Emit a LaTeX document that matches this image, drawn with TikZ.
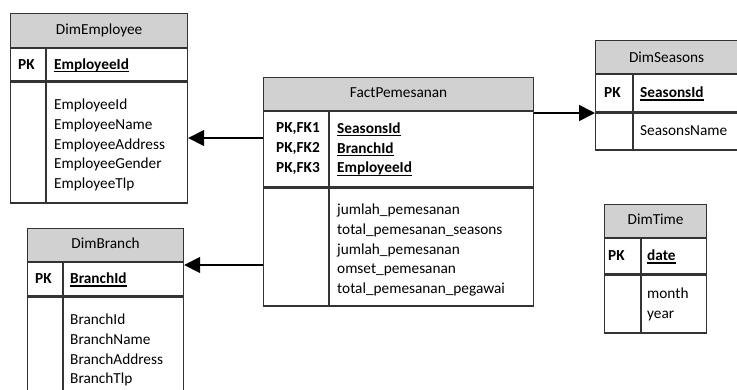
\documentclass[tikz,border=0pt]{standalone}
\usepackage{fontspec}
\setmainfont{Carlito}
\usetikzlibrary{arrows.meta,positioning}

\newsavebox\pkbox
\newcommand{\pkfield}[1]{\sbox\pkbox{\textbf{#1}}\usebox\pkbox\llap{\rule[-2.7pt]{\wd\pkbox}{1.1pt}}}

\tikzset{
  every node/.style={font=\fontsize{15.3}{19.6}\selectfont},
  tbl/.style={draw=black!80, line width=1.2pt, rectangle, inner sep=0pt, anchor=north west},
  head/.style={tbl, fill=black!18, text height=10pt, text depth=3pt},
  sep/.style={draw=black!80, line width=1.2pt},
  pk/.style={anchor=base west, inner sep=0pt, font=\fontsize{15.3}{19.6}\selectfont\bfseries},
  fields/.style={anchor=north west, inner sep=0pt, align=left},
  fk/.style={draw=black, line width=1.6pt, -{Triangle[length=16pt,width=16pt]}}
}

\begin{document}
\begin{tikzpicture}[x=1pt,y=-1pt]
      \useasboundingbox (0,0) rectangle (737,389);
      \clip (0,0) rectangle (737,389);

      \begin{scope}
        \node[head, minimum width=177pt, minimum height=34pt] (emphead) at (10,13) {DimEmployee};
        \node[tbl, minimum width=177pt, minimum height=32pt] (empkey) at (emphead.south west) {};
        \node[tbl, minimum width=177pt, minimum height=121pt] (empbody) at (empkey.south west) {};
        \draw[sep] ([xshift=36pt]empkey.north west) -- ([xshift=36pt]empbody.south west);
        \node[pk] (emppk) at ([shift={(8,4.5)}]empkey.west) {PK};
        \node[pk] (empid) at ([shift={(44,4.5)}]empkey.west) {\pkfield{EmployeeId}};
        \node[fields] (empattr) at ([shift={(44,17.6)}]empbody.north west)
          {EmployeeId\\EmployeeName\\EmployeeAddress\\EmployeeGender\\EmployeeTlp};
      \end{scope}

      \begin{scope}
        \node[head, minimum width=270pt, minimum height=33pt] (facthead) at (263,77) {FactPemesanan};
        \node[tbl, minimum width=270pt, minimum height=75pt] (factkey) at (facthead.south west) {};
        \node[tbl, minimum width=270pt, minimum height=118pt] (factbody) at (factkey.south west) {};
        \draw[sep] ([xshift=66pt]factkey.north west) -- ([xshift=66pt]factbody.south west);
        \node[fields, font=\fontsize{15.3}{19.6}\selectfont\bfseries] (factpk) at ([shift={(13,11.6)}]factkey.north west)
          {PK,FK1\\PK,FK2\\PK,FK3};
        \node[fields] (factids) at ([shift={(74,11.6)}]factkey.north west)
          {\pkfield{SeasonsId}\\\pkfield{BranchId}\\\pkfield{EmployeeId}};
        \node[fields] (factattr) at ([shift={(74,16.6)}]factbody.north west)
          {jumlah\_pemesanan\\total\_pemesanan\_seasons\\jumlah\_pemesanan\\omset\_pemesanan\\total\_pemesanan\_pegawai};
      \end{scope}

      \begin{scope}
        \node[head, minimum width=170pt, minimum height=33pt] (seashead) at (595,40) {};
        \node (seastitle) at ([xshift=-14pt]seashead.center) {DimSeasons};
        \node[tbl, minimum width=170pt, minimum height=37pt] (seaskey) at (seashead.south west) {};
        \node[tbl, minimum width=170pt, minimum height=37pt] (seasbody) at (seaskey.south west) {};
        \draw[sep] ([xshift=38pt]seaskey.north west) -- ([xshift=38pt]seasbody.south west);
        \node[pk] (seaspk) at ([shift={(9,4.5)}]seaskey.west) {PK};
        \node[pk] (seasid) at ([shift={(45,4.5)}]seaskey.west) {\pkfield{SeasonsId}};
        \node[fields] (seasattr) at ([shift={(45,12.6)}]seasbody.north west) {SeasonsName};
      \end{scope}

      \begin{scope}
        \node[head, minimum width=102pt, minimum height=33pt] (timehead) at (604,204) {DimTime};
        \node[tbl, minimum width=102pt, minimum height=35pt] (timekey) at (timehead.south west) {};
        \node[tbl, minimum width=102pt, minimum height=58pt] (timebody) at (timekey.south west) {};
        \draw[sep] ([xshift=37pt]timekey.north west) -- ([xshift=37pt]timebody.south west);
        \node[pk] (timepk) at ([shift={(4,4.5)}]timekey.west) {PK};
        \node[pk] (timeid) at ([shift={(43,4.5)}]timekey.west) {\pkfield{date}};
        \node[fields] (timeattr) at ([shift={(43,13.6)}]timebody.north west) {month\\year};
      \end{scope}

      \begin{scope}
        \node[head, minimum width=156pt, minimum height=33pt] (brhead) at (27,228) {DimBranch};
        \node[tbl, minimum width=156pt, minimum height=33pt] (brkey) at (brhead.south west) {};
        \node[tbl, minimum width=156pt, minimum height=110pt] (brbody) at (brkey.south west) {};
        \draw[sep] ([xshift=36pt]brkey.north west) -- ([xshift=36pt]brbody.south west);
        \node[pk] (brpk) at ([shift={(8,4.5)}]brkey.west) {PK};
        \node[pk] (brid) at ([shift={(43,4.5)}]brkey.west) {\pkfield{BranchId}};
        \node[fields] (brattr) at ([shift={(43,17.6)}]brbody.north west)
          {BranchId\\BranchName\\BranchAddress\\BranchTlp};
      \end{scope}

      \draw[fk] (factkey.west |- 0,138) -- (empbody.east |- 0,138);
      \draw[fk] (factbody.west |- 0,265) -- (brkey.east |- 0,265);
      \draw[fk] (factkey.east |- 0,113) -- (seasbody.west |- 0,113);
    \end{tikzpicture}
\end{document}
